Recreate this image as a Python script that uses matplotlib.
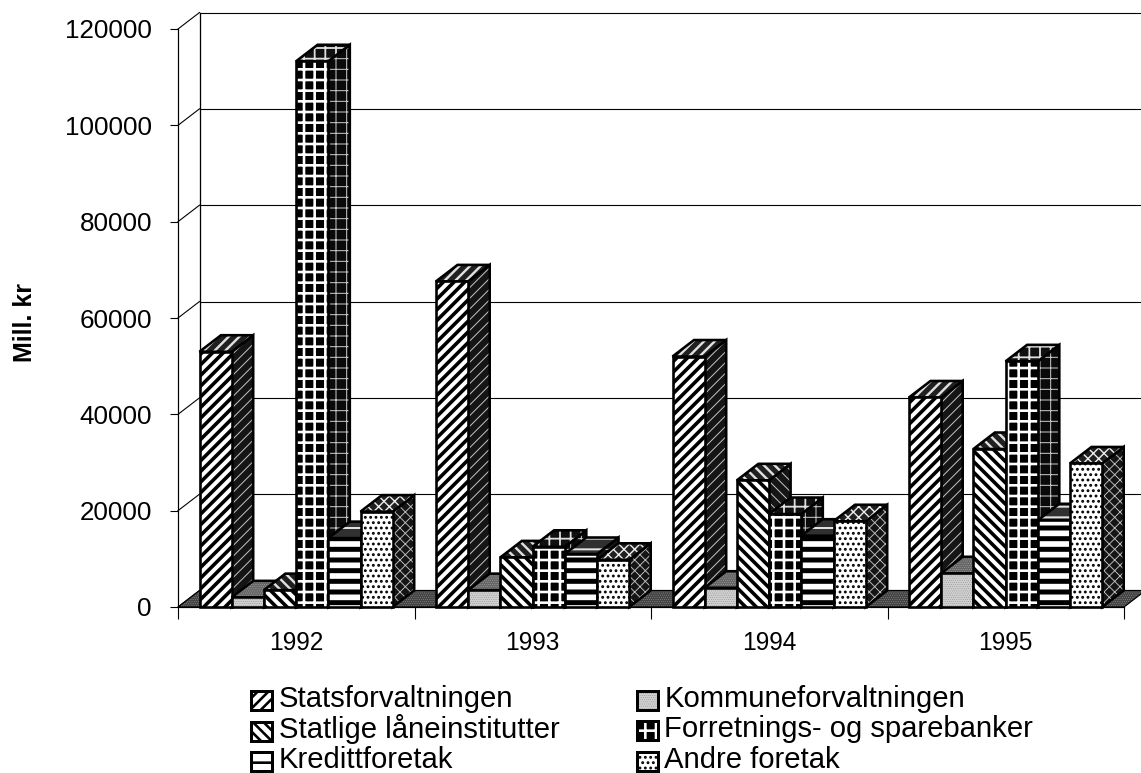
import numpy as np
import matplotlib.pyplot as plt
from matplotlib.patches import Polygon, Rectangle
from matplotlib.legend_handler import HandlerBase

plt.rcParams['font.family'] = ['Liberation Sans', 'DejaVu Sans']

years = ['1992', '1993', '1994', '1995']
series = ['Statsforvaltningen', 'Kommuneforvaltningen', 'Statlige låneinstitutter',
          'Forretnings- og sparebanker', 'Kredittforetak', 'Andre foretak']
stats = [53000, 67600, 52000, 43500]
kommune = [2000, 3500, 4000, 7000]
statlige = [3500, 10300, 26300, 32800]
forretning = [113300, 12500, 19300, 51000]
kreditt = [14300, 11000, 14800, 18000]
andre = [19800, 9800, 17800, 29800]
values = [stats, kommune, statlige, forretning, kreditt, andre]

# face colour, hatch colour, hatch, hatch width in pixels
front = [('white', 'black', '//', 3.6),
         ('#d0d0d0', '#777777', '.....', 0.3),
         ('white', 'black', '\\\\', 3.6),
         ('black', 'white', '+', 2.6),
         ('white', 'black', '-', 5.0),
         ('white', 'black', '..', 1.8)]
side = [('#151515', '#c0c0c0', '//', 1.0),
        ('#555555', '#aaaaaa', '.....', 0.3),
        ('#151515', '#c0c0c0', '\\\\', 1.0),
        ('#0a0a0a', '#c8c8c8', '+', 1.0),
        ('#151515', '#c0c0c0', '-', 1.0),
        ('#151515', '#c0c0c0', 'xx', 0.9)]
top = [('#202020', '#e0e0e0', '//', 2.4),
       ('#666666', '#bbbbbb', '.....', 0.3),
       ('#202020', '#e0e0e0', '\\\\', 2.4),
       ('#101010', '#e0e0e0', '+', 1.8),
       ('#303030', '#e0e0e0', '-', 2.0),
       ('#202020', '#eeeeee', 'xx', 1.4)]

DPI = 64
PXW, PXH = 1141, 773
px = 72 / DPI

fig = plt.figure(figsize=(PXW / DPI, PXH / DPI), dpi=DPI)
ax = fig.add_axes([178 / PXW, 1 - 607 / PXH, (1124 - 178) / PXW, (607 - 29) / PXH])
ax.set_xlim(0, 4)
ax.set_ylim(0, 120000)

dx = 21.5 / 236.5
dy = 16.5 / 578 * 120000
bar_w = 32.2 / 236.5
LW = 2.6 * px


def hatched(kind, index):
    face, col, hatch, width = kind[index]
    plt.rcParams['hatch.linewidth'] = width * px
    return dict(facecolor=face, edgecolor=col, hatch=hatch, linewidth=0)


def poly(points, kind, index, z):
    ax.add_patch(Polygon(points, clip_on=False, zorder=z, **hatched(kind, index)))
    ax.add_patch(Polygon(points, fill=False, edgecolor='black', linewidth=LW,
                         clip_on=False, zorder=z, joinstyle='miter'))


# back wall and left wall
grid_vals = np.arange(0, 140000, 20000)
for v in grid_vals:
    ax.plot([0, dx], [v, v + dy], color='black', lw=1.1 * px, clip_on=False, zorder=1)
    ax.plot([dx, 4 + dx], [v + dy, v + dy], color='black', lw=1.1 * px, clip_on=False, zorder=1)
ax.plot([dx, dx], [dy, 120000 + dy], color='black', lw=1.3 * px, clip_on=False, zorder=1)

# floor
floor = [(0, 0), (dx, dy), (4 + dx, dy), (4, 0)]
plt.rcParams['hatch.linewidth'] = 0.3 * px
ax.add_patch(Polygon(floor, facecolor='#444444', edgecolor='#aaaaaa', hatch='.....',
                     linewidth=0, clip_on=False, zorder=2))
ax.add_patch(Polygon(floor, fill=False, edgecolor='black', linewidth=1.2 * px,
                     clip_on=False, zorder=2))

# bars, left to right so the later ones hide the sides of the earlier ones
z = 3
for c in range(len(years)):
    for s in range(len(series)):
        v = values[s][c]
        x0 = c + dx + s * bar_w
        x1 = x0 + bar_w
        poly([(x1, 0), (x1 + dx, dy), (x1 + dx, v + dy), (x1, v)], side, s, z)
        poly([(x0, v), (x0 + dx, v + dy), (x1 + dx, v + dy), (x1, v)], top, s, z)
        ax.bar(x0, v, bar_w, align='edge', clip_on=False, zorder=z, **hatched(front, s))
        ax.bar(x0, v, bar_w, align='edge', fill=False, edgecolor='black', linewidth=LW,
               clip_on=False, zorder=z)
        z += 1

ax.spines['top'].set_visible(False)
ax.spines['right'].set_visible(False)
for sp in ['left', 'bottom']:
    ax.spines[sp].set_linewidth(1.2 * px)
    ax.spines[sp].set_zorder(2)

ax.set_yticks(grid_vals)
ax.tick_params(axis='y', length=8 * px, width=1.1 * px, pad=18 * px, labelsize=26 * px)
ax.set_xticks(np.arange(0, 5))
ax.set_xticklabels([])
ax.tick_params(axis='x', which='major', length=12 * px, width=1.1 * px)
ax.set_xticks(np.arange(0.5, 4), labels=years, minor=True)
ax.tick_params(axis='x', which='minor', length=0, pad=24 * px, labelsize=24.5 * px)
ax.set_ylabel('Mill. kr', fontweight='bold', fontsize=25 * px, labelpad=0)
ax.yaxis.set_label_coords((37 - 178) / (1124 - 178), (607 - 322) / 578)


class BoxHandler(HandlerBase):
    # small framed swatch, the legend row height stays free of its size
    def __init__(self, index):
        super().__init__()
        self.index = index

    def create_artists(self, legend, orig_handle, xdescent, ydescent, width, height, fontsize, trans):
        face, col, hatch, w = front[self.index]
        plt.rcParams['hatch.linewidth'] = min(w, 2.6) * px
        xy = (-xdescent, -3 * px)
        box = Rectangle(xy, 21 * px, 19 * px, facecolor=face, edgecolor=col, hatch=hatch,
                        linewidth=0, transform=trans)
        edge = Rectangle(xy, 21 * px, 19 * px, fill=False, edgecolor='black',
                         linewidth=3 * px, transform=trans)
        return [box, edge]


# the legend fills column by column
order = [0, 2, 4, 1, 3, 5]
dummies = [Rectangle((0, 0), 1, 1) for i in order]
leg = fig.legend(dummies, [series[i] for i in order], ncol=2,
                 handler_map={d: BoxHandler(i) for d, i in zip(dummies, order)},
                 loc='upper left', bbox_to_anchor=(228 / PXW, 1 - 660 / PXH), frameon=False,
                 fontsize=29.2 * px, handlelength=0.9, handleheight=1.05, handletextpad=0.05,
                 labelspacing=0.03, columnspacing=2.63, borderpad=0.3)

fig.savefig('out.png', dpi=DPI)
